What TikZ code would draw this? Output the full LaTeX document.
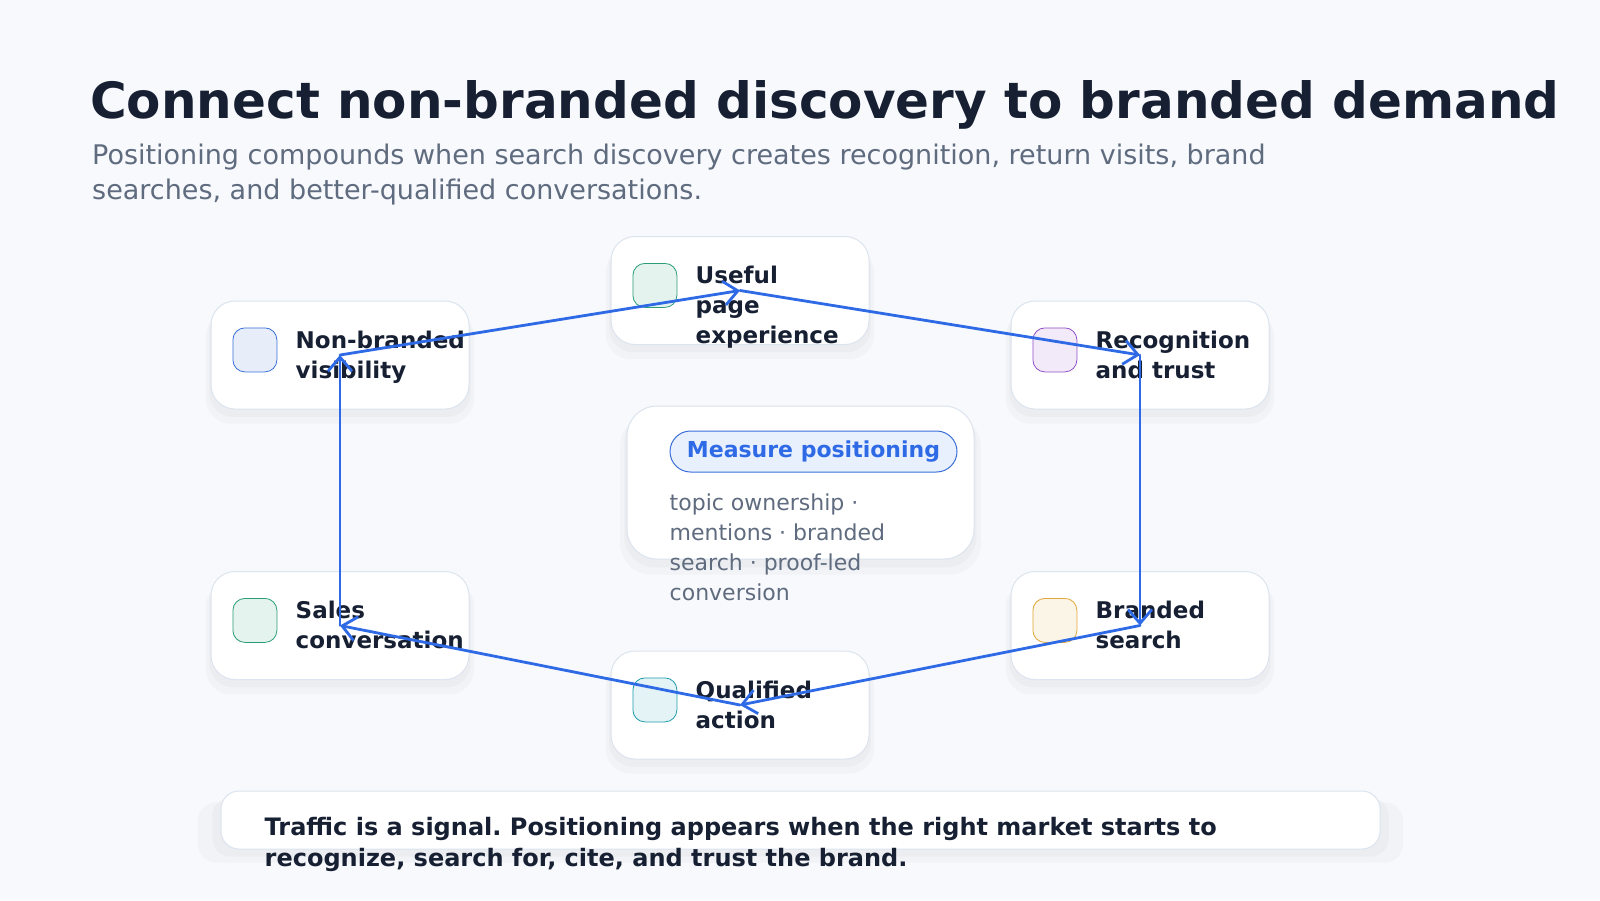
\documentclass[tikz,border=0pt]{standalone}
\usepackage{fontspec}
\setmainfont{DejaVu Sans}
\usepackage{tikz}
\usetikzlibrary{arrows.meta,positioning,calc,shadows}
\definecolor{pagebg}{HTML}{F7F9FC}
\definecolor{ink}{HTML}{172033}
\definecolor{muted}{HTML}{5F6B7E}
\definecolor{edge}{HTML}{DCE4EF}
\definecolor{flowblue}{HTML}{2F6AE6}
\definecolor{pillfill}{HTML}{E8F0FE}
\definecolor{pillline}{HTML}{3B6FD8}
\definecolor{iconblue}{HTML}{3B6FD8}
\definecolor{icongreen}{HTML}{2A9D78}
\definecolor{iconpurple}{HTML}{9150C8}
\definecolor{iconamber}{HTML}{E0A83A}
\definecolor{iconteal}{HTML}{1E9DAA}
\frenchspacing

\begin{document}
\begin{tikzpicture}[x=1pt,y=-1pt,
  card/.style={draw=edge,fill=white,line width=1pt,
               drop shadow={shadow xshift=0pt,shadow yshift=-12pt,
                            shadow scale=1.04,opacity=0.03,fill=black!70},
               drop shadow={shadow xshift=0pt,shadow yshift=-7pt,
                            shadow scale=1.015,opacity=0.035,fill=black!70}},
  stepbox/.style={card,rounded corners=24pt,
                  minimum width=258pt,minimum height=108pt},
  icon/.style={draw=#1,fill=#1!12,line width=0.8pt,rounded corners=12pt,
               minimum size=44pt,inner sep=0pt,anchor=north west},
  lbl/.style={anchor=north west,inner sep=0pt,align=left,text=ink,
              font=\fontsize{23}{30}\selectfont\bfseries},
  flow/.style={-{Straight Barb[length=14pt,width=24pt]},line width=2.8pt,
               flowblue,line cap=round,line join=round}]
  \fill[pagebg] (0,0) rectangle (1600,900);
  \useasboundingbox (0,0) rectangle (1600,900);
  \node[anchor=base west,inner sep=0pt,text=ink,
        font=\fontsize{50}{60}\selectfont\bfseries]
    (title) at (90,118) {Connect non-branded discovery to branded demand};
  \node[anchor=north west,inner sep=0pt,align=left,text=muted,
        font=\fontsize{27}{35}\selectfont]
    (subtitle) at (92,143.5) {Positioning compounds when search discovery creates recognition, return visits, brand\\searches, and better-qualified conversations.};
  % loop steps
  \node[stepbox](nonbranded) at (340,355) {};
  \node[stepbox](useful) at (740,290.5) {};
  \node[stepbox](recog) at (1140,355) {};
  \node[stepbox](branded) at (1140,625.5) {};
  \node[stepbox](qualified) at (740,705) {};
  \node[stepbox](sales) at (340,625.5) {};
  \node[icon=iconblue](nonbrandedicon) at ($(nonbranded.north west)+(22,27)$) {};
  \node[icon=icongreen](usefulicon) at ($(useful.north west)+(22,27)$) {};
  \node[icon=iconpurple](recogicon) at ($(recog.north west)+(22,27)$) {};
  \node[icon=iconamber](brandedicon) at ($(branded.north west)+(22,27)$) {};
  \node[icon=iconteal](qualifiedicon) at ($(qualified.north west)+(22,27)$) {};
  \node[icon=icongreen](salesicon) at ($(sales.north west)+(22,27)$) {};
  \node[lbl](nonbrandedlbl) at ($(nonbranded.north west)+(85,30)$) {Non-branded\\visibility};
  \node[lbl](usefullbl) at ($(useful.north west)+(85,30)$) {Useful\\page\\experience};
  \node[lbl](recoglbl) at ($(recog.north west)+(85,30)$) {Recognition\\and trust};
  \node[lbl](brandedlbl) at ($(branded.north west)+(85,30)$) {Branded\\search};
  \node[lbl](qualifiedlbl) at ($(qualified.north west)+(85,30)$) {Qualified\\action};
  \node[lbl](saleslbl) at ($(sales.north west)+(85,30)$) {Sales\\conversation};
  % centre panel
  \node[card,rounded corners=30pt,minimum width=347pt,minimum height=153pt]
    (measure) at (800.5,482.5) {};
  \node[draw=pillline,fill=pillfill,line width=1pt,rounded corners=20.5pt,
        minimum width=287pt,minimum height=41pt,text=flowblue,
        font=\fontsize{22}{26}\selectfont\bfseries]
    (pill) at (813.5,451.5) {Measure positioning};
  \node[anchor=north west,inner sep=0pt,align=left,text=muted,
        font=\fontsize{22}{30}\selectfont]
    (metrics) at ($(measure.north west)+(43,88)$) {topic ownership ·\\mentions · branded\\search · proof-led\\conversion};
  % takeaway
  \node[card,rounded corners=18pt,minimum width=1159pt,minimum height=58pt]
    (takeaway) at (800.5,820) {};
  \node[anchor=north west,inner sep=0pt,align=left,text=ink,
        font=\fontsize{24}{31}\selectfont\bfseries]
    (takeawaytext) at ($(takeaway.north west)+(44,27)$) {Traffic is a signal. Positioning appears when the right market starts to\\recognize, search for, cite, and trust the brand.};
  % flow arrows
  \draw[flow](nonbranded.center)--(useful.center);
  \draw[flow](useful.center)--(recog.center);
  \draw[flow](recog.center)--(branded.center);
  \draw[flow](branded.center)--(qualified.center);
  \draw[flow](qualified.center)--(sales.center);
  \draw[flow](sales.center)--(nonbranded.center);
\end{tikzpicture}
\end{document}
